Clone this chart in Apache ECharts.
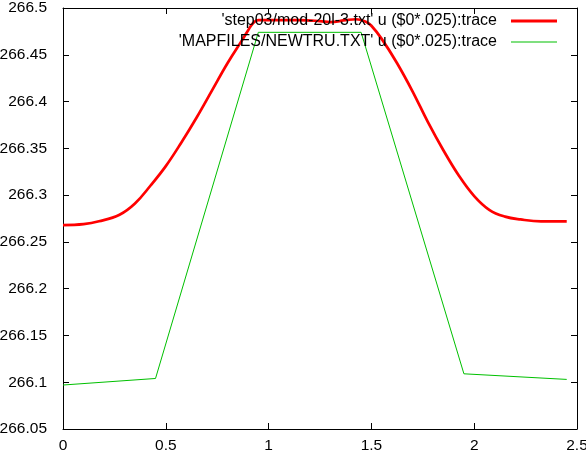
<!DOCTYPE html>
<html>
<head>
<meta charset="utf-8">
<script src="https://cdn.jsdelivr.net/npm/echarts@6/dist/echarts.min.js"></script>
<style>
html,body{margin:0;padding:0;background:#fff;}
#c{width:586px;height:452px;}
</style>
</head>
<body>
<div id="c"></div>
<script>
const redName = "'step03/mod-20l-3.txt' u ($0*.025):trace";
const greenName = "'MAPFILES/NEWTRU.TXT' u ($0*.025):trace";

const redX = [0, 0.1, 0.175, 0.275, 0.35, 0.425, 0.5, 0.575, 0.65, 0.725, 0.8, 0.875, 0.9, 0.925, 0.95, 1.05, 1.15, 1.25, 1.3, 1.375, 1.425, 1.475, 1.5, 1.55, 1.625, 1.7, 1.775, 1.85, 1.925, 2.0, 2.075, 2.15, 2.225, 2.325, 2.45];
const redY = [266.268, 266.269, 266.272, 266.279, 266.291, 266.310, 266.331, 266.356, 266.383, 266.412, 266.441, 266.467, 266.476, 266.484, 266.487, 266.487, 266.487, 266.486, 266.485, 266.487, 266.488, 266.485, 266.481, 266.467, 266.441, 266.411, 266.378, 266.348, 266.321, 266.299, 266.284, 266.277, 266.274, 266.272, 266.272];

const greenX = [0, 0.45, 0.95, 1.45, 1.95, 2.45];
const greenY = [266.097, 266.104, 266.474, 266.474, 266.109, 266.103];

const xTicks = {min: 0, max: 2.5, interval: 0.5};
const yTicks = {min: 266.05, max: 266.5, interval: 0.05};

const pairs = (xs, ys) => xs.map((x, i) => [x, ys[i]]);
const font = "'Liberation Sans', Arial, sans-serif";

const chart = echarts.init(document.getElementById('c'), null, {renderer: 'canvas'});
const axisCommon = {
  axisLine: {show: true, onZero: false, lineStyle: {color: '#000', width: 1}},
  axisTick: {show: true, inside: true, length: 6, lineStyle: {color: '#000'}},
  splitLine: {show: false}
};
chart.setOption({
  animation: false,
  backgroundColor: '#fff',
  grid: {left: 63, right: 9, top: 8, bottom: 23, containLabel: false, outerBoundsMode: 'none'},
  xAxis: [
    Object.assign({type: 'value', position: 'bottom', min: xTicks.min, max: xTicks.max, interval: xTicks.interval,
      axisLabel: {color: '#000', fontSize: 15.5, fontFamily: font, margin: 9,
        formatter: v => String(+v.toFixed(2))}}, axisCommon),
    Object.assign({type: 'value', position: 'top', min: xTicks.min, max: xTicks.max, interval: xTicks.interval,
      axisLabel: {show: false}}, axisCommon)
  ],
  yAxis: [
    Object.assign({type: 'value', position: 'left', min: yTicks.min, max: yTicks.max, interval: yTicks.interval,
      axisLabel: {color: '#000', fontSize: 15.5, fontFamily: font, margin: 16,
        formatter: v => String(+v.toFixed(2))}}, axisCommon),
    Object.assign({type: 'value', position: 'right', min: yTicks.min, max: yTicks.max, interval: yTicks.interval,
      axisLabel: {show: false}}, axisCommon)
  ],
  legend: {
    orient: 'vertical',
    right: 29,
    top: 13,
    padding: 0,
    align: 'right',
    itemWidth: 46,
    itemHeight: 3,
    itemGap: 5,
    textStyle: {color: '#000', fontSize: 16, fontFamily: font, lineHeight: 14, padding: [0, 9, 0, 0]},
    data: [
      {name: redName, icon: 'path://M0,0 L46,0 L46,3 L0,3 Z', itemStyle: {color: '#ff0000'}},
      {name: greenName, icon: 'path://M0,0 L46,0 L46,1 L0,1 Z', itemStyle: {color: '#00c000'}}
    ]
  },
  series: [
    {name: redName, type: 'line', data: pairs(redX, redY), symbol: 'none', smooth: 0.4,
      lineStyle: {color: '#ff0000', width: 2.7}, itemStyle: {color: '#ff0000'}, z: 3},
    {name: greenName, type: 'line', data: pairs(greenX, greenY), symbol: 'none',
      lineStyle: {color: '#00c000', width: 1}, itemStyle: {color: '#00c000'}, z: 2}
  ]
});
</script>
</body>
</html>
